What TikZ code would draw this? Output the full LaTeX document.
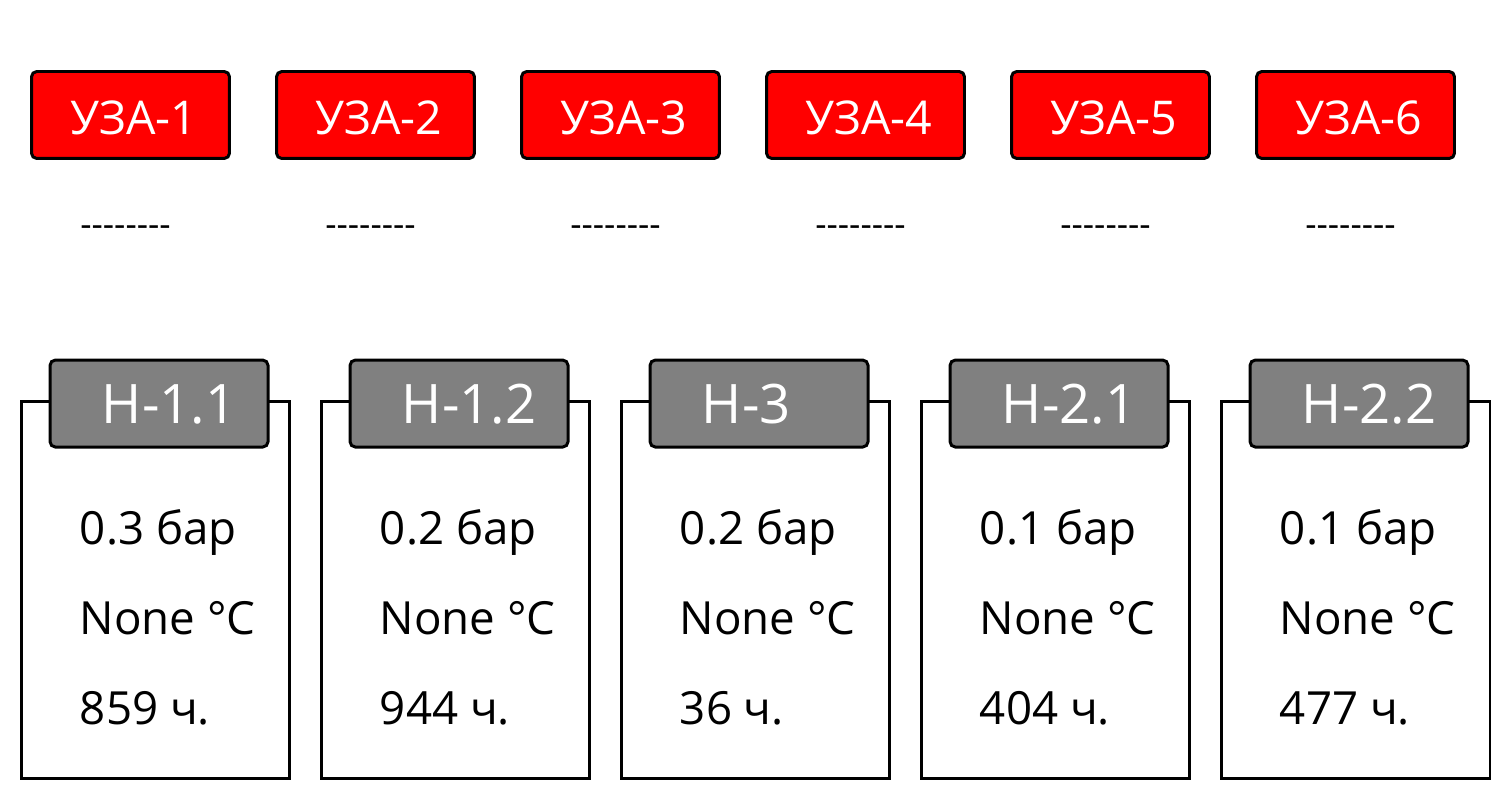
\documentclass[tikz,border=0pt]{standalone}
\usepackage{fontspec}
\setmainfont{Open Sans}
\usetikzlibrary{positioning,calc}

\tikzset{
  uzabox/.style={draw=black, line width=1.7pt, fill=red, rounded corners=3pt,
    minimum width=3.96cm, minimum height=1.74cm, inner sep=0pt},
  uzatext/.style={text=white, inner sep=0pt, font=\fontsize{26.5}{30}\selectfont},
  dashtext/.style={inner sep=0pt, font=\fontsize{20}{24}\selectfont},
  pumpbox/.style={draw=black, line width=1.7pt, fill=white,
    minimum width=5.38cm, minimum height=7.56cm, inner sep=0pt},
  pumphead/.style={draw=black, line width=1.7pt, fill=black!50, rounded corners=3pt,
    minimum width=4.36cm, minimum height=1.74cm, inner sep=0pt},
  headtext/.style={text=white, inner sep=0pt, font=\fontsize{31}{36}\selectfont},
  valtext/.style={inner sep=0pt, anchor=base west, font=\fontsize{26}{30}\selectfont}
}

\begin{document}
\begin{tikzpicture}[x=0.02cm, y=-0.02cm]
\useasboundingbox (0,0) rectangle (1500,800);

% верхний ряд: УЗА
\foreach \i in {1,...,6} {
  \node[uzabox] (uza\i) at ({130.5+245*(\i-1)},115) {};
  \node[uzatext, anchor=base west] (uzat\i) at ($(uza\i.west)+(40,20)$) {УЗА-\i};
  \node[dashtext] (dash\i) at ($(uza\i.south)+(-5,71)$) {-{}-{}-{}-{}-{}-{}-{}-};
}

% нижний ряд: насосы
\foreach \name/\pres/\hrs [count=\i] in {Н-1.1/0.3/859, Н-1.2/0.2/944, Н-3/0.2/36, Н-2.1/0.1/404, Н-2.2/0.1/477} {
  \node[pumpbox] (pump\i) at ({155.5+300*(\i-1)},590) {};
  \node[pumphead] (head\i) at ($(pump\i.north west)+(139.5,4)$) {};
  \node[headtext, anchor=base west] (headt\i) at ($(pump\i.north west)+(82,24)$) {\name};
  \node[valtext] (pres\i) at ($(pump\i.north west)+(60,145)$) {\pres{} бар};
  \node[valtext] (temp\i) at ($(pump\i.north west)+(60,235)$) {None °C};
  \node[valtext] (hrs\i) at ($(pump\i.north west)+(60,325)$) {\hrs{} ч.};
}
\end{tikzpicture}
\end{document}
